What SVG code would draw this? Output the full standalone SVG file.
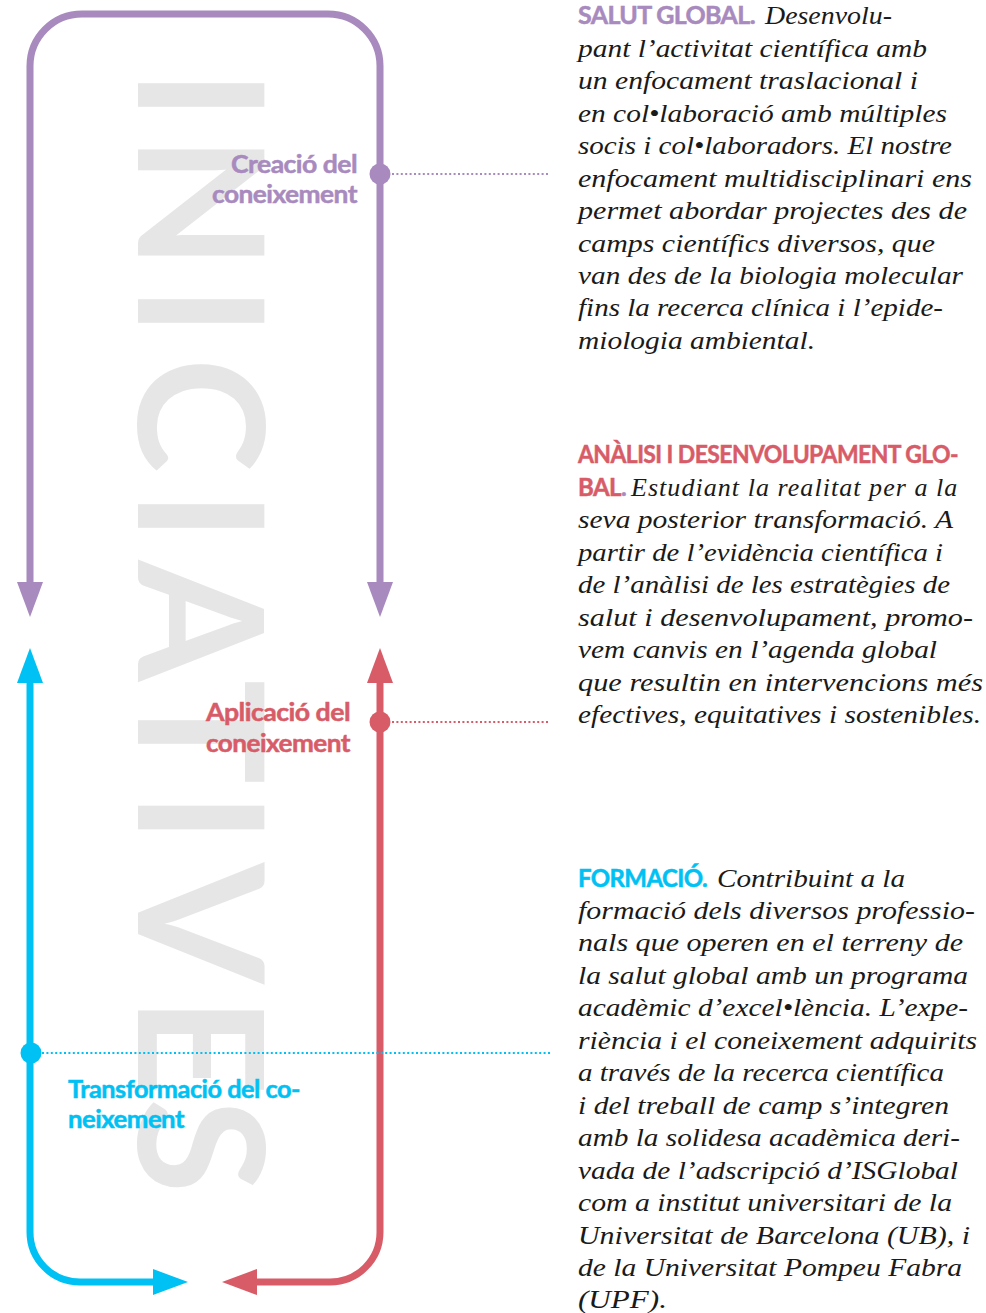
<svg xmlns="http://www.w3.org/2000/svg" width="986" height="1313" viewBox="0 0 986 1313">
<style>
.wm{font-family:Lato,"Open Sans","Liberation Sans",sans-serif;font-weight:700;font-size:174px;fill:#e6e6e6;text-anchor:middle}
.lbl{font-family:Lato,"Open Sans","Liberation Sans",sans-serif;font-weight:700;font-size:25px;letter-spacing:-0.5px;stroke-width:0.5px}
.hd{font-family:Lato,"Open Sans","Liberation Sans",sans-serif;font-weight:700;font-size:24px;letter-spacing:-0.6px;stroke-width:0.5px}
.bd{font-family:"Liberation Serif","Times New Roman",serif;font-style:italic;font-size:26px;fill:#1a1a1a}
.pu{fill:#a88abe;stroke:#a88abe}.rd{fill:#d85c68;stroke:#d85c68}.bl{fill:#00c1f3;stroke:#00c1f3}
.ln{fill:none;stroke-width:7}
.dt{fill:none;stroke-width:2;stroke-dasharray:2 2.4}
</style>
<defs>
<marker id="ahP" markerUnits="userSpaceOnUse" viewBox="0 -14 36 28" refX="0" refY="0" markerWidth="36" markerHeight="28" orient="auto-start-reverse"><path d="M0,-13 L35,0 L0,13 Z" fill="#a88abe"/></marker>
<marker id="ahR" markerUnits="userSpaceOnUse" viewBox="0 -14 36 28" refX="0" refY="0" markerWidth="36" markerHeight="28" orient="auto-start-reverse"><path d="M0,-13 L35,0 L0,13 Z" fill="#d85c68"/></marker>
<marker id="ahB" markerUnits="userSpaceOnUse" viewBox="0 -14 36 28" refX="0" refY="0" markerWidth="36" markerHeight="28" orient="auto-start-reverse"><path d="M0,-13 L35,0 L0,13 Z" fill="#00c1f3"/></marker>
</defs>
<rect width="986" height="1313" fill="#ffffff"/>
<g id="watermark">
<text class="wm" transform="translate(138,95) rotate(90)">I</text>
<text class="wm" transform="translate(138,202.5) rotate(90)">N</text>
<text class="wm" transform="translate(138,311) rotate(90)">I</text>
<text class="wm" transform="translate(138,415) rotate(90)">C</text>
<text class="wm" transform="translate(138,516) rotate(90)">I</text>
<text class="wm" transform="translate(138,621) rotate(90)">A</text>
<text class="wm" transform="translate(138,732) rotate(90)">T</text>
<text class="wm" transform="translate(138,817.5) rotate(90)">I</text>
<text class="wm" transform="translate(138,923.5) rotate(90)">V</text>
<text class="wm" transform="translate(138,1046.5) rotate(90)">E</text>
<text class="wm" transform="translate(138,1146) rotate(90)">S</text>
</g>
<g id="connectors">
<path class="ln" stroke="#a88abe" d="M30,582 L30,66 A52,52 0 0 1 82,14 L328,14 A52,52 0 0 1 380,66 L380,582" marker-start="url(#ahP)" marker-end="url(#ahP)"/>
<path class="ln" stroke="#00c1f3" d="M30,683 L30,1232 A50,50 0 0 0 80,1282 L153,1282" marker-start="url(#ahB)" marker-end="url(#ahB)"/>
<path class="ln" stroke="#d85c68" d="M380,683 L380,1232 A50,50 0 0 1 330,1282 L257,1282" marker-start="url(#ahR)" marker-end="url(#ahR)"/>
<line class="dt" stroke="#a88abe" x1="392" y1="174" x2="550" y2="174"/>
<line class="dt" stroke="#d85c68" x1="392" y1="722" x2="550" y2="722"/>
<line class="dt" stroke="#00c1f3" x1="42" y1="1053" x2="550" y2="1053"/>
</g>
<g id="node-creacio">
<circle fill="#a88abe" cx="380" cy="174" r="10.5"/>
<text class="lbl pu" x="231" y="173" textLength="126" lengthAdjust="spacingAndGlyphs">Creació del</text>
<text class="lbl pu" x="212" y="203" textLength="145" lengthAdjust="spacingAndGlyphs">coneixement</text>
</g>
<g id="node-aplicacio">
<circle fill="#d85c68" cx="380" cy="722" r="10.5"/>
<text class="lbl rd" x="206" y="721" textLength="144" lengthAdjust="spacingAndGlyphs">Aplicació del</text>
<text class="lbl rd" x="206" y="752" textLength="144" lengthAdjust="spacingAndGlyphs">coneixement</text>
</g>
<g id="node-transformacio">
<circle fill="#00c1f3" cx="31" cy="1053" r="10.5"/>
<text class="lbl bl" x="68" y="1098" textLength="232" lengthAdjust="spacingAndGlyphs">Transformació del co-</text>
<text class="lbl bl" x="68" y="1128" textLength="116" lengthAdjust="spacingAndGlyphs">neixement</text>
</g>
<g id="text-salut">
<text class="hd pu" x="578" y="24" textLength="177" lengthAdjust="spacingAndGlyphs">SALUT GLOBAL.</text>
<text class="bd" x="765" y="24" textLength="127" lengthAdjust="spacingAndGlyphs">Desenvolu-</text>
<text class="bd" x="578" y="57" textLength="349" lengthAdjust="spacingAndGlyphs">pant l’activitat científica amb</text>
<text class="bd" x="578" y="89" textLength="340" lengthAdjust="spacingAndGlyphs">un enfocament traslacional i</text>
<text class="bd" x="578" y="122" textLength="369" lengthAdjust="spacingAndGlyphs">en col•laboració amb múltiples</text>
<text class="bd" x="578" y="154" textLength="374" lengthAdjust="spacingAndGlyphs">socis i col•laboradors. El nostre</text>
<text class="bd" x="578" y="187" textLength="394" lengthAdjust="spacingAndGlyphs">enfocament multidisciplinari ens</text>
<text class="bd" x="578" y="219" textLength="389" lengthAdjust="spacingAndGlyphs">permet abordar projectes des de</text>
<text class="bd" x="578" y="252" textLength="357" lengthAdjust="spacingAndGlyphs">camps científics diversos, que</text>
<text class="bd" x="578" y="284" textLength="385" lengthAdjust="spacingAndGlyphs">van des de la biologia molecular</text>
<text class="bd" x="578" y="316" textLength="365" lengthAdjust="spacingAndGlyphs">fins la recerca clínica i l’epide-</text>
<text class="bd" x="578" y="349" textLength="237" lengthAdjust="spacingAndGlyphs">miologia ambiental.</text>
</g>
<g id="text-analisi">
<text class="hd rd" x="578" y="463" textLength="380" lengthAdjust="spacingAndGlyphs">ANÀLISI I DESENVOLUPAMENT GLO-</text>
<text y="496"><tspan class="hd rd" x="578" letter-spacing="-1.3">BAL</tspan><tspan class="hd pu">.</tspan><tspan class="bd" x="631" letter-spacing="1.05">Estudiant la realitat per a la</tspan></text>
<text class="bd" x="578" y="528" textLength="375" lengthAdjust="spacingAndGlyphs">seva posterior transformació. A</text>
<text class="bd" x="578" y="561" textLength="365" lengthAdjust="spacingAndGlyphs">partir de l’evidència científica i</text>
<text class="bd" x="578" y="593" textLength="372" lengthAdjust="spacingAndGlyphs">de l’anàlisi de les estratègies de</text>
<text class="bd" x="578" y="626" textLength="395" lengthAdjust="spacingAndGlyphs">salut i desenvolupament, promo-</text>
<text class="bd" x="578" y="658" textLength="359" lengthAdjust="spacingAndGlyphs">vem canvis en l’agenda global</text>
<text class="bd" x="578" y="691" textLength="405" lengthAdjust="spacingAndGlyphs">que resultin en intervencions més</text>
<text class="bd" x="578" y="723" textLength="403" lengthAdjust="spacingAndGlyphs">efectives, equitatives i sostenibles.</text>
</g>
<g id="text-formacio">
<text class="hd bl" x="578" y="887" textLength="129" lengthAdjust="spacingAndGlyphs">FORMACIÓ.</text>
<text class="bd" x="717" y="887" textLength="188" lengthAdjust="spacingAndGlyphs">Contribuint a la</text>
<text class="bd" x="578" y="919" textLength="397" lengthAdjust="spacingAndGlyphs">formació dels diversos professio-</text>
<text class="bd" x="578" y="951" textLength="385" lengthAdjust="spacingAndGlyphs">nals que operen en el terreny de</text>
<text class="bd" x="578" y="984" textLength="390" lengthAdjust="spacingAndGlyphs">la salut global amb un programa</text>
<text class="bd" x="578" y="1016" textLength="390" lengthAdjust="spacingAndGlyphs">acadèmic d’excel•lència. L’expe-</text>
<text class="bd" x="578" y="1049" textLength="399" lengthAdjust="spacingAndGlyphs">riència i el coneixement adquirits</text>
<text class="bd" x="578" y="1081" textLength="366" lengthAdjust="spacingAndGlyphs">a través de la recerca científica</text>
<text class="bd" x="578" y="1114" textLength="371" lengthAdjust="spacingAndGlyphs">i del treball de camp s’integren</text>
<text class="bd" x="578" y="1146" textLength="382" lengthAdjust="spacingAndGlyphs">amb la solidesa acadèmica deri-</text>
<text class="bd" x="578" y="1179" textLength="380" lengthAdjust="spacingAndGlyphs">vada de l’adscripció d’ISGlobal</text>
<text class="bd" x="578" y="1211" textLength="374" lengthAdjust="spacingAndGlyphs">com a institut universitari de la</text>
<text class="bd" x="578" y="1244" textLength="392" lengthAdjust="spacingAndGlyphs">Universitat de Barcelona (UB), i</text>
<text class="bd" x="578" y="1276" textLength="384" lengthAdjust="spacingAndGlyphs">de la Universitat Pompeu Fabra</text>
<text class="bd" x="578" y="1308" textLength="89" lengthAdjust="spacingAndGlyphs">(UPF).</text>
</g>
</svg>
